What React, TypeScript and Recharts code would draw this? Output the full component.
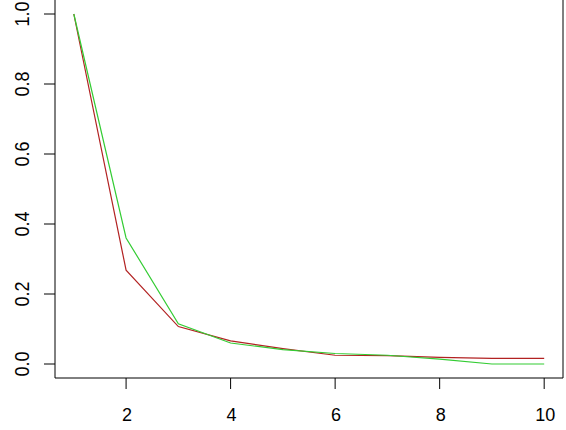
import React from 'react';
import { LineChart, Line, XAxis, YAxis, ReferenceLine } from 'recharts';

const xValues = [1, 2, 3, 4, 5, 6, 7, 8, 9, 10];
const redValues = [1.0, 0.268, 0.107, 0.066, 0.044, 0.025, 0.024, 0.019, 0.016, 0.016];
const greenValues = [1.0, 0.36, 0.115, 0.06, 0.041, 0.03, 0.025, 0.014, 0.0, 0.0];
const xTicks = [2, 4, 6, 8, 10];
const yTicks = [0, 0.2, 0.4, 0.6, 0.8, 1.0];

const data = xValues.map((x, i) => ({ x, red: redValues[i], green: greenValues[i] }));

const font = '"Liberation Sans", Arial, sans-serif';

const XTick = (props: any) => {
  const { x, y, payload } = props;
  return (
    <text x={x + 1} y={y + 30} textAnchor="middle" fontFamily={font} fontSize={18} fill="#000">
      {payload.value}
    </text>
  );
};

const YTick = (props: any) => {
  const { x, y, payload } = props;
  return (
    <text
      transform={`translate(${x - 13},${y}) scale(1.15,1) rotate(-90)`}
      textAnchor="middle"
      fontFamily={font}
      fontSize={18}
      fill="#000"
    >
      {payload.value.toFixed(1)}
    </text>
  );
};

export default function App() {
  return (
    <div style={{ position: 'fixed', left: 0, top: 0, background: '#fff' }}>
      <LineChart width={566} height={430} data={data} margin={{ top: 0, right: 3, left: 0, bottom: 0 }}>
        <XAxis
          dataKey="x"
          type="number"
          domain={[0.64, 10.36]}
          ticks={xTicks}
          tickSize={11}
          height={52}
          stroke="#000"
          tick={<XTick />}
          allowDataOverflow
        />
        <YAxis
          type="number"
          domain={[-0.04, 1.04]}
          ticks={yTicks}
          tickSize={11}
          width={55}
          stroke="#000"
          tick={<YTick />}
          allowDataOverflow
        />
        <ReferenceLine x={10.36} stroke="#000" ifOverflow="visible" />
        <Line type="linear" dataKey="red" stroke="#b22222" strokeWidth={1.2} dot={false} isAnimationActive={false} />
        <Line type="linear" dataKey="green" stroke="#33cc33" strokeWidth={1.2} dot={false} isAnimationActive={false} />
      </LineChart>
    </div>
  );
}
